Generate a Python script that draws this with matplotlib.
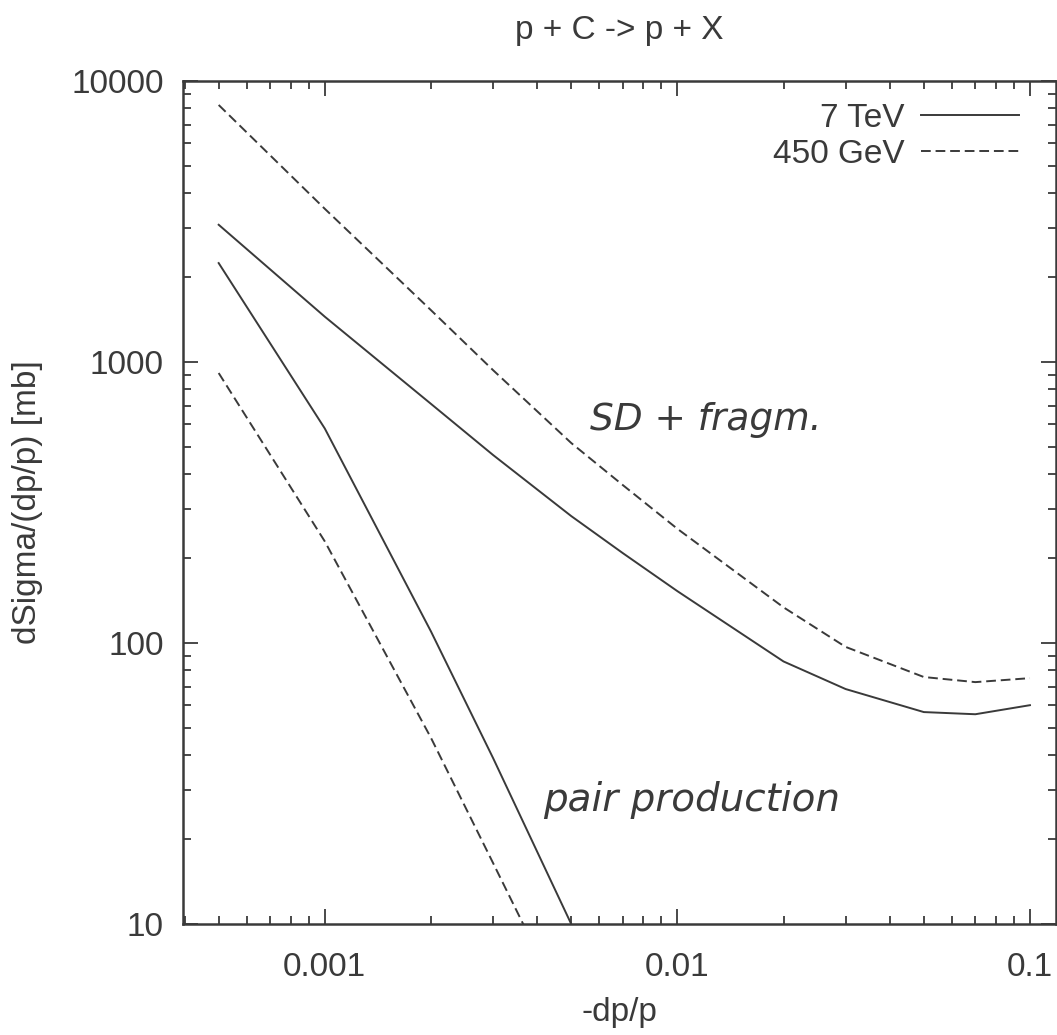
import numpy as np
import matplotlib.pyplot as plt

plt.rcParams['font.family'] = ['Liberation Sans', 'DejaVu Sans']

# momentum loss -dp/p and dSigma/(dp/p) in mb
x_sd = [0.0005, 0.001, 0.002, 0.003, 0.005, 0.007, 0.01, 0.02, 0.03, 0.05, 0.07, 0.1]
sd_7tev = [3080, 1450, 710, 467, 283, 209, 153, 86, 68.6, 56.8, 55.8, 60.1]
sd_450gev = [8220, 3510, 1530, 936, 515, 365, 255, 134, 96.9, 75.7, 72.6, 75.0]

x_pair = [0.0005, 0.001, 0.002, 0.003, 0.005]
pair_7tev = [2250, 580, 110, 39, 10]
pair_450gev = [914, 230, 46, 16.5, 4.5]

ink = '#3a3a3a'
dash = (0, (5, 2.5))

fig = plt.figure(figsize=(10.57, 10.35), dpi=100)
ax = fig.add_axes([0.1731, 0.1072, 0.8259, 0.8145])

ax.plot(x_sd, sd_7tev, color=ink, lw=1.4, label='7 TeV')
ax.plot(x_sd, sd_450gev, color=ink, lw=1.4, ls=dash, label='450 GeV')
ax.plot(x_pair, pair_7tev, color=ink, lw=1.4)
ax.plot(x_pair, pair_450gev, color=ink, lw=1.4, ls=dash)

ax.set_xscale('log')
ax.set_yscale('log')
ax.set_xlim(0.000396, 0.1185)
ax.set_ylim(10, 10000)
ax.set_xticks([0.001, 0.01, 0.1])
ax.set_xticklabels(['0.001', '0.01', '0.1'])
ax.set_yticks([10, 100, 1000, 10000])
ax.set_yticklabels(['10', '100', '1000', '10000'])

ax.tick_params(which='both', direction='in', top=True, right=True,
               color=ink, labelcolor=ink, labelsize=24, width=1.3)
ax.tick_params(which='major', length=11, pad=14)
ax.tick_params(axis='x', which='major', pad=20)
ax.tick_params(which='minor', length=5.5)
for s in ax.spines.values():
    s.set_color(ink)
    s.set_linewidth(1.8)

ax.set_title('p + C -> p + X', fontsize=24, color=ink, pad=30)
ax.set_xlabel('-dp/p', fontsize=24, color=ink, labelpad=10)
ax.set_ylabel('dSigma/(dp/p) [mb]', fontsize=24, color=ink, labelpad=20)

ax.legend(loc='upper right', bbox_to_anchor=(0.9694, 0.986),
          frameon=False, fontsize=24, markerfirst=False,
          handlelength=2.95, labelspacing=0.15, labelcolor=ink,
          borderaxespad=0, borderpad=0.3, handletextpad=0.5)

# hand-written notes next to the two groups of curves
ax.text(0.00564, 622, 'SD + fragm.', fontsize=27, style='italic',
        color=ink, va='center', family=['DejaVu Sans'])
ax.text(0.00415, 27.6, 'pair production', fontsize=28, style='italic',
        color=ink, va='center', family=['DejaVu Sans'])

fig.savefig('out.png', dpi=100, facecolor='white')
